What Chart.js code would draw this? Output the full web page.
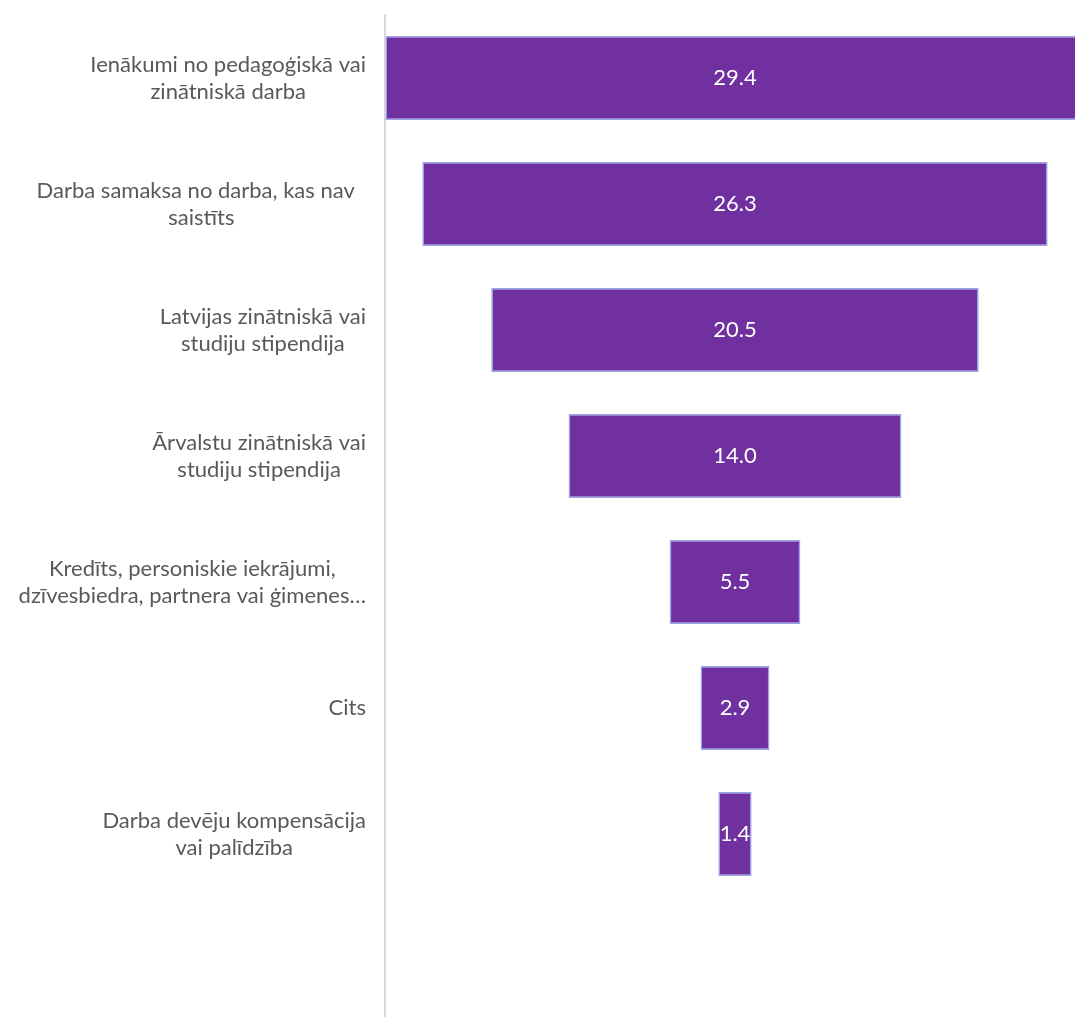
<!DOCTYPE html>
<html><head><meta charset="utf-8">
<script src="https://cdn.jsdelivr.net/npm/chart.js@4"></script>
<style>html,body{margin:0;padding:0;background:#fff;overflow:hidden}#wrap{width:1075px;height:1030px}</style>
</head><body><div id="wrap"><canvas id="c" width="1075" height="1030"></canvas></div>
<script>
const categories = [
  ["Ienākumi no pedagoģiskā vai", "zinātniskā darba"],
  ["Darba samaksa no darba, kas nav  ", "saistīts"],
  ["Latvijas zinātniskā vai", "studiju stipendija"],
  ["Ārvalstu zinātniskā vai", "studiju stipendija"],
  ["Kredīts, personiskie iekrājumi,", "dzīvesbiedra, partnera vai ģimenes…"],
  "Cits",
  ["Darba devēju kompensācija", "vai palīdzība"],
  ""
];
const values = [29.4, 26.3, 20.5, 14.0, 5.5, 2.9, 1.4, null];

const FONT = "Lato, 'Open Sans', sans-serif";
const LINE_H = 27;

const labelPlugin = {
  id: 'customLabels',
  afterDatasetsDraw(chart) {
    const ctx = chart.ctx;
    const meta = chart.getDatasetMeta(0);
    const yScale = chart.scales.y;
    ctx.save();
    // values inside bars
    ctx.fillStyle = '#ffffff';
    ctx.font = '22px ' + FONT;
    ctx.textAlign = 'center';
    ctx.textBaseline = 'middle';
    meta.data.forEach((el, i) => {
      if (values[i] == null) return;
      const cx = (el.x + el.base) / 2;
      ctx.fillText(values[i].toFixed(1), cx, el.y);
    });
    // category labels: block right-aligned, lines centred within block
    ctx.fillStyle = '#595959';
    const right = chart.chartArea.left - 19;
    categories.forEach((lab, i) => {
      const lines = Array.isArray(lab) ? lab : [lab];
      if (!lines.join('')) return;
      const w = Math.max(...lines.map(l => ctx.measureText(l).width));
      const cx = right - w / 2;
      const y0 = yScale.getPixelForValue(i) - (lines.length - 1) * LINE_H / 2;
      lines.forEach((l, j) => ctx.fillText(l, cx, y0 + j * LINE_H));
    });
    ctx.restore();
  }
};

new Chart(document.getElementById('c'), {
  type: 'bar',
  data: {
    labels: categories,
    datasets: [{
      data: values.map(v => v == null ? null : [-v / 2, v / 2]),
      backgroundColor: '#7030A0',
      borderColor: '#9aa6e8',
      borderWidth: 1.5,
      borderSkipped: false,
      categoryPercentage: 1,
      barPercentage: 0.667
    }]
  },
  options: {
    indexAxis: 'y',
    responsive: false,
    animation: false,
    layout: { padding: { top: 15, bottom: 7, left: 0, right: 0 } },
    plugins: { legend: { display: false }, tooltip: { enabled: false } },
    scales: {
      x: {
        display: false,
        min: -14.72,
        max: 14.3
      },
      y: {
        grid: { display: false, drawTicks: false },
        border: { display: true, color: '#d9d9d9', width: 2 },
        afterFit(scale) {
          scale.width = 385;
          scale.paddingTop = 0;
          scale.paddingBottom = 0;
        },
        ticks: { display: false, autoSkip: false }
      }
    }
  },
  plugins: [labelPlugin]
});
</script>
</body></html>
